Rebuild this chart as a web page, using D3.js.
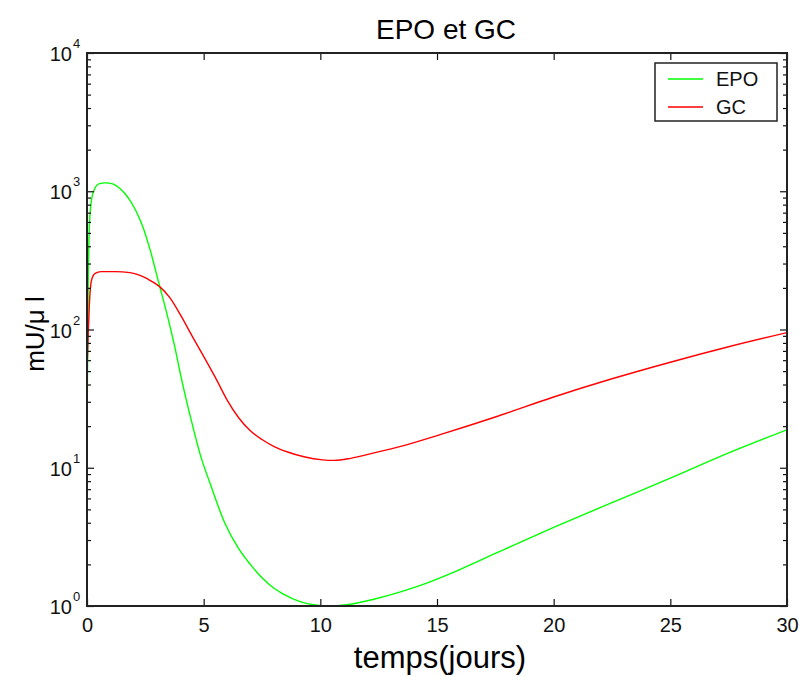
<!DOCTYPE html>
<html>
<head>
<meta charset="utf-8">
<script src="https://cdn.jsdelivr.net/npm/d3@7"></script>
<style>
  body { margin: 0; background: #fff; }
  svg { font-family: "Liberation Sans", Arial, sans-serif; }
</style>
</head>
<body>
<div id="chart"></div>
<script>
// values (days, mU/µl)
const epoDays = [0, 0.05, 0.1, 0.2, 0.35, 0.5, 0.8, 1.1, 1.4, 1.8, 2.1, 2.4, 2.7, 3.1, 3.45, 3.8, 4.0, 4.5, 4.85, 5.3, 5.9, 6.5, 7.0, 7.5, 8.0, 8.5, 9.1, 9.7, 10.4, 11.3, 12.3, 13.4, 14.5, 15.6, 17.5, 20, 22.5, 25, 27.5, 30];
const epoValues = [18, 200, 550, 880, 1060, 1130, 1150, 1130, 1050, 880, 720, 550, 380, 210, 125, 70, 48, 21, 12.5, 7.5, 4.0, 2.6, 2.0, 1.6, 1.35, 1.2, 1.08, 1.02, 1.0, 1.03, 1.12, 1.26, 1.45, 1.72, 2.4, 3.7, 5.6, 8.4, 12.8, 18.8];

const gcDays = [0, 0.05, 0.1, 0.2, 0.35, 0.6, 1.2, 1.84, 2.3, 2.6, 3.1, 3.55, 4.0, 4.5, 5.0, 5.5, 6.0, 6.5, 7.0, 7.5, 8.0, 8.6, 9.3, 10.1, 10.6, 11.3, 12.3, 13.4, 15.1, 17.5, 20, 22.5, 25, 27.5, 30];
const gcValues = [50, 90, 150, 230, 255, 262, 262, 258, 245, 232, 205, 170, 128, 90, 64, 45, 31, 23, 18.5, 16, 14.3, 13, 12, 11.4, 11.3, 11.7, 12.8, 14.2, 17.3, 23.3, 32.5, 44, 58, 75, 95];

const xTicks = [0, 5, 10, 15, 20, 25, 30];
const yDecades = [0, 1, 2, 3, 4];
const seriesNames = ["EPO", "GC"];
const seriesColors = ["#00ff00", "#ff0000"];

const width = 799, height = 677;
const plotLeft = 87, plotRight = 787, plotTop = 53, plotBottom = 606;

const svg = d3.select('#chart')
    .append('svg')
    .attr('width', width)
    .attr('height', height);

const x = d3.scaleLinear().domain([0, 30]).range([plotLeft, plotRight]);
const y = d3.scaleLog().domain([1, 10000]).range([plotBottom, plotTop]);

// minor ticks 2..9 in each decade
const minorTicks = [];
yDecades.slice(0, -1).forEach(e => {
    for (let k = 2; k <= 9; k++) minorTicks.push(k * Math.pow(10, e));
});

svg.append('defs').append('clipPath')
    .attr('id', 'plotclip')
    .append('rect')
    .attr('x', plotLeft).attr('y', plotTop - 1)
    .attr('width', plotRight - plotLeft).attr('height', plotBottom - plotTop + 1);

// lines
const line = d3.line()
    .x(d => x(d[0]))
    .y(d => y(d[1]))
    .curve(d3.curveMonotoneX);

const series = [
    d3.zip(epoDays, epoValues),
    d3.zip(gcDays, gcValues)
];

svg.append('g')
    .attr('clip-path', 'url(#plotclip)')
    .selectAll('path')
    .data(series)
    .enter().append('path')
    .attr('d', line)
    .attr('fill', 'none')
    .attr('stroke', (d, i) => seriesColors[i])
    .attr('stroke-width', 1.4);

// axes with inward ticks (MATLAB style)
function styleAxis(g) {
    g.select('.domain').remove();
    g.selectAll('.tick line').attr('stroke', '#111').attr('stroke-width', 1.2);
}

svg.append('g')
    .attr('transform', `translate(0,${plotBottom})`)
    .call(d3.axisBottom(x).tickValues(xTicks).tickSizeInner(-7).tickSizeOuter(0).tickPadding(12).tickFormat(d3.format('d')))
    .call(styleAxis)
    .call(g => g.selectAll('text')
        .attr('fill', '#111')
        .style('font-size', '20px')
        .style('font-family', '"Liberation Sans", Arial, sans-serif'));

svg.append('g')
    .attr('transform', `translate(0,${plotTop})`)
    .call(d3.axisTop(x).tickValues(xTicks).tickSizeInner(-7).tickSizeOuter(0).tickFormat(''))
    .call(styleAxis);

[[plotLeft, d3.axisLeft], [plotRight, d3.axisRight]].forEach(([pos, axisFn]) => {
    svg.append('g')
        .attr('transform', `translate(${pos},0)`)
        .call(axisFn(y).tickValues(yDecades.map(e => Math.pow(10, e))).tickSizeInner(-7).tickSizeOuter(0).tickFormat(''))
        .call(styleAxis);
    svg.append('g')
        .attr('transform', `translate(${pos},0)`)
        .call(axisFn(y).tickValues(minorTicks).tickSizeInner(-4).tickSizeOuter(0).tickFormat(''))
        .call(styleAxis);
});

// y tick labels 10^n
const yLab = svg.append('g')
    .selectAll('g')
    .data(yDecades)
    .enter().append('g')
    .attr('transform', d => `translate(0,${y(Math.pow(10, d))})`);

yLab.append('text')
    .attr('x', plotLeft - 15)
    .attr('y', 8)
    .attr('text-anchor', 'end')
    .attr('fill', '#111')
    .style('font-size', '20px')
    .text('10');

yLab.append('text')
    .attr('x', plotLeft - 14)
    .attr('y', -5)
    .attr('fill', '#111')
    .style('font-size', '13px')
    .text(d => d);

// box
svg.append('rect')
    .attr('x', plotLeft).attr('y', plotTop)
    .attr('width', plotRight - plotLeft).attr('height', plotBottom - plotTop)
    .attr('fill', 'none')
    .attr('stroke', '#222')
    .attr('stroke-width', 2);

// titles
svg.append('text')
    .attr('x', 446).attr('y', 39)
    .attr('text-anchor', 'middle')
    .style('font-size', '28px')
    .text('EPO et GC');

svg.append('text')
    .attr('x', 440).attr('y', 668)
    .attr('text-anchor', 'middle')
    .style('font-size', '31px')
    .text('temps(jours)');

svg.append('text')
    .attr('transform', 'translate(44,334) rotate(-90)')
    .attr('text-anchor', 'middle')
    .style('font-size', '26px')
    .text('mU/\u03bc l');

// legend
const legend = svg.append('g');
legend.append('rect')
    .attr('x', 655).attr('y', 63)
    .attr('width', 122).attr('height', 58)
    .attr('fill', '#fff')
    .attr('stroke', '#222')
    .attr('stroke-width', 1.5);

const items = legend.selectAll('g.item')
    .data(seriesNames)
    .enter().append('g')
    .attr('class', 'item')
    .attr('transform', (d, i) => `translate(0,${79 + i * 28})`);

items.append('line')
    .attr('x1', 668).attr('x2', 703)
    .attr('stroke', (d, i) => seriesColors[i])
    .attr('stroke-width', 1.4);

items.append('text')
    .attr('x', 716).attr('y', 7)
    .attr('fill', '#111')
    .style('font-size', '20px')
    .text(d => d);
</script>
</body>
</html>
